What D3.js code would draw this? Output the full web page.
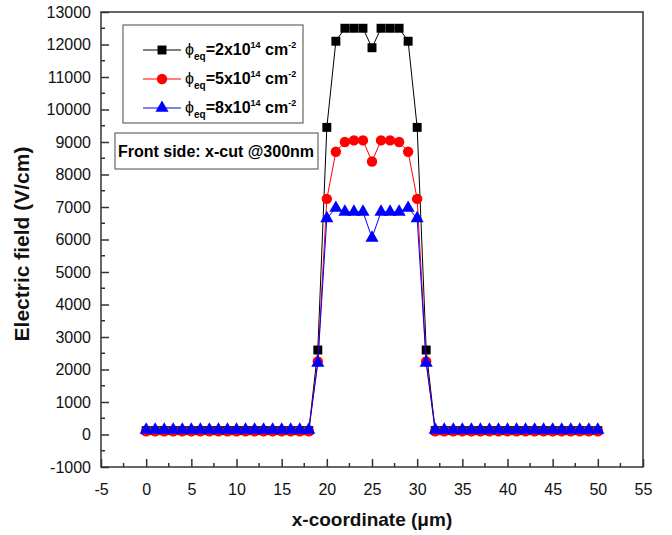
<!DOCTYPE html>
<html>
<head>
<meta charset="utf-8">
<script src="https://cdn.jsdelivr.net/npm/d3@7"></script>
<style>
  body { margin: 0; background: #fff; }
  text { font-family: "Liberation Sans", Arial, sans-serif; }
</style>
</head>
<body>
<div id="chart"></div>
<script>
// x positions (um)
const xPos = [0,1,2,3,4,5,6,7,8,9,10,11,12,13,14,15,16,17,18,19,20,21,22,23,24,25,
  26,27,28,29,30,31,32,33,34,35,36,37,38,39,40,41,42,43,44,45,46,47,48,49,50]

// electric field (V/cm), phi_eq = 2e14
const field2 = [120,120,120,120,120,120,120,120,120,120,120,120,120,120,120,120,120,120,120,
  2600,9450,12100,12500,12500,12500,11900,12500,12500,12500,12100,9450,2600,
  120,120,120,120,120,120,120,120,120,120,120,120,120,120,120,120,120,120,120]
// phi_eq = 5e14
const field5 = [100,100,100,100,100,100,100,100,100,100,100,100,100,100,100,100,100,100,100,
  2250,7250,8700,9000,9050,9050,8400,9050,9050,9000,8700,7250,2250,
  100,100,100,100,100,100,100,100,100,100,100,100,100,100,100,100,100,100,100]
// phi_eq = 8e14
const field8 = [140,140,140,140,140,140,140,140,140,140,140,140,140,140,140,140,140,140,140,
  2200,6650,6970,6850,6850,6850,6050,6850,6850,6850,6970,6650,2200,
  140,140,140,140,140,140,140,140,140,140,140,140,140,140,140,140,140,140,140]

const legendLabels = ["2", "5", "8"]
const xTicks = [-5,0,5,10,15,20,25,30,35,40,45,50,55]
const yTicks = [-1000,0,1000,2000,3000,4000,5000,6000,7000,8000,9000,10000,11000,12000,13000]

const width = 672, height = 535
const mLeft = 101, mRight = 643, mTop = 12, mBottom = 467

let svg = d3.select("#chart").append("svg").attr("width", width).attr("height", height)

let x = d3.scaleLinear().domain([-5, 55]).range([mLeft, mRight])
let y = d3.scaleLinear().domain([-1000, 13000]).range([mBottom, mTop])

const AXIS = "#333"
const fmt = d => String(d)   // plain hyphen for negatives, like the original

// minor ticks
let xMinor = d3.range(-2.5, 55, 5)
let yMinor = d3.range(-500, 13000, 1000)
svg.append("g").selectAll("line").data(xMinor).join("line")
  .attr("x1", d => x(d)).attr("x2", d => x(d)).attr("y1", mBottom).attr("y2", mBottom - 4)
  .attr("stroke", AXIS).attr("stroke-width", 1.5)
svg.append("g").selectAll("line").data(yMinor).join("line")
  .attr("y1", d => y(d)).attr("y2", d => y(d)).attr("x1", mLeft).attr("x2", mLeft + 4)
  .attr("stroke", AXIS).attr("stroke-width", 1.5)

let xAxis = svg.append("g").attr("transform", `translate(0,${mBottom})`)
  .call(d3.axisBottom(x).tickValues(xTicks).tickFormat(fmt).tickSize(-8).tickPadding(17))
let yAxis = svg.append("g").attr("transform", `translate(${mLeft},0)`)
  .call(d3.axisLeft(y).tickValues(yTicks).tickFormat(fmt).tickSize(-8).tickPadding(10))

for (let a of [xAxis, yAxis]) {
  a.select(".domain").remove()
  a.selectAll(".tick line").attr("stroke", AXIS).attr("stroke-width", 1.5)
  a.selectAll(".tick text").attr("font-size", "16px").attr("fill", "#111")
    .style("font-family", "'Liberation Sans', Arial, sans-serif")
}

// frame
svg.append("rect").attr("x", mLeft).attr("y", mTop).attr("width", mRight - mLeft).attr("height", mBottom - mTop)
  .attr("fill", "none").attr("stroke", AXIS).attr("stroke-width", 1.5)

// series
const series = [
  { vals: field2, color: "#000000", shape: d3.symbolSquare, size: 80 },
  { vals: field5, color: "#ff0000", shape: d3.symbolCircle, size: 85 },
  { vals: field8, color: "#0000ff", shape: d3.symbolTriangle, size: 75 }
]

let line = d3.line().x((d, i) => x(xPos[i])).y(d => y(d))

series.forEach(s => {
  svg.append("path").datum(s.vals).attr("d", line)
    .attr("fill", "none").attr("stroke", s.color).attr("stroke-width", 1)
  svg.append("g").selectAll("path").data(s.vals).join("path")
    .attr("d", d3.symbol().type(s.shape).size(s.size))
    .attr("transform", (d, i) => `translate(${x(xPos[i])},${y(d)})`)
    .attr("fill", s.color)
})

// legend
let lg = svg.append("g")
lg.append("rect").attr("x", 123).attr("y", 25).attr("width", 180).attr("height", 98)
  .attr("fill", "#fff").attr("stroke", "#666").attr("stroke-width", 1.2)

series.forEach((s, i) => {
  let ry = 50 + i * 29
  lg.append("line").attr("x1", 143).attr("x2", 181).attr("y1", ry).attr("y2", ry)
    .attr("stroke", s.color).attr("stroke-width", 1)
  lg.append("path").attr("d", d3.symbol().type(s.shape).size(s.size))
    .attr("transform", `translate(162,${ry})`).attr("fill", s.color)
  let t = lg.append("text").attr("x", 185).attr("y", ry + 5)
    .attr("font-size", "16px").attr("font-weight", "bold").attr("fill", "#000")
  t.append("tspan").text("\u03D5").attr("font-weight", "normal")
  t.append("tspan").text("eq").attr("font-size", "10px").attr("dy", 5)
  t.append("tspan").text("=" + legendLabels[i] + "x10").attr("dy", -5)
  t.append("tspan").text("14").attr("font-size", "9px").attr("dy", -7)
  t.append("tspan").text(" cm").attr("dy", 7)
  t.append("tspan").text("-2").attr("font-size", "9px").attr("dy", -7)
})

// annotation box
svg.append("rect").attr("x", 115).attr("y", 133).attr("width", 203).attr("height", 36)
  .attr("fill", "#fff").attr("stroke", "#666").attr("stroke-width", 1.2)
svg.append("text").attr("x", 216).attr("y", 157).attr("text-anchor", "middle")
  .attr("font-size", "16px").attr("font-weight", "bold").text("Front side: x-cut @300nm")

// axis titles
svg.append("text").attr("x", (mLeft + mRight) / 2).attr("y", 526).attr("text-anchor", "middle")
  .attr("font-size", "19px").attr("font-weight", "bold").attr("fill", "#111")
  .text("x-coordinate (\u03BCm)")
svg.append("text").attr("transform", `translate(29,244) rotate(-90)`)
  .attr("text-anchor", "middle")
  .attr("font-size", "21px").attr("font-weight", "bold").attr("fill", "#111")
  .text("Electric field (V/cm)")
</script>
</body>
</html>
